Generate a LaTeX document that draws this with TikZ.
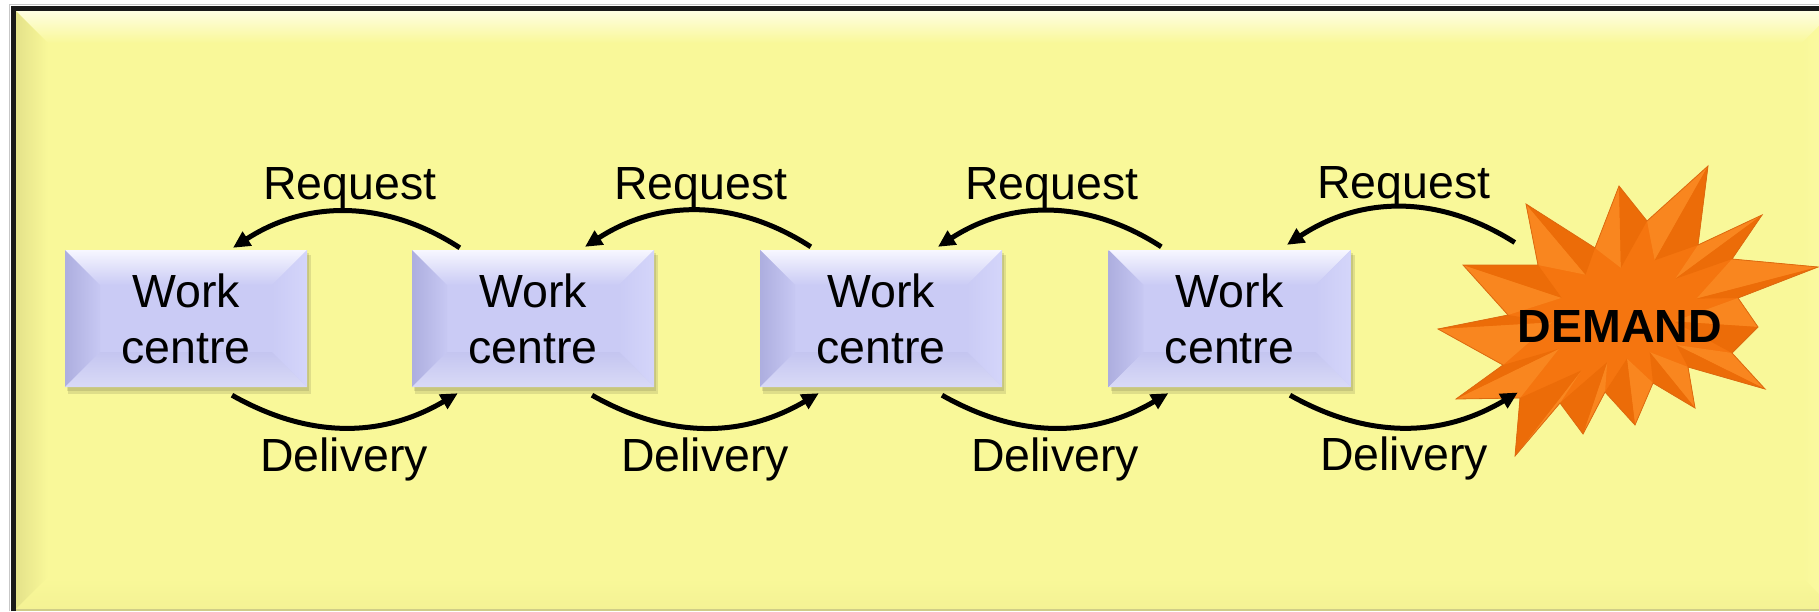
\documentclass[tikz,border=0pt]{standalone}
\usepackage{fontspec}
\setmainfont{Liberation Sans}
\usetikzlibrary{arrows.meta,calc}

\definecolor{panel}{HTML}{F9F899}
\definecolor{panelhi}{HTML}{FEFEE2}
\definecolor{panelsh}{HTML}{E4E28A}
\definecolor{panelbt}{HTML}{F4F294}
\definecolor{panelrt}{HTML}{FCFBA6}
\definecolor{panelline}{HTML}{CFCD88}
\definecolor{wcbase}{HTML}{CACBF5}
\definecolor{wctop}{HTML}{F7F7FF}
\definecolor{wcleft}{HTML}{ADAEDF}
\definecolor{wcright}{HTML}{D4D5FA}
\definecolor{wcbot}{HTML}{C4C5F0}
\definecolor{wcbotedge}{HTML}{D9DAF7}
\definecolor{starbase}{HTML}{F5750F}
\definecolor{starlight}{HTML}{F9861F}
\definecolor{stardark}{HTML}{EC6C08}
\definecolor{staredge}{HTML}{DD6A10}

% bevelled work-centre tile, centred at (#1,#2), 242 x 137 with a 35 bevel
\newcommand\wcbevel[2]{%
  \begin{scope}[shift={(#1,#2)}]
    \fill[black,opacity=.10] (-118,-64) rectangle (125,75);
    \fill[black,opacity=.10] (-119,-66) rectangle (123,72);
    \fill[wcbase] (-121,-68.5) rectangle (121,68.5);
    \shade[top color=wctop,bottom color=wcbase] (-121,-68.5) -- (121,-68.5) -- (86,-33.5) -- (-86,-33.5) -- cycle;
    \shade[left color=wcleft,right color=wcbase!90!wcleft] (-121,-68.5) -- (-86,-33.5) -- (-86,33.5) -- (-121,68.5) -- cycle;
    \shade[left color=wcbase,right color=wcright] (121,-68.5) -- (121,68.5) -- (86,33.5) -- (86,-33.5) -- cycle;
    \shade[top color=wcbot,bottom color=wcbotedge] (-121,68.5) -- (121,68.5) -- (86,33.5) -- (-86,33.5) -- cycle;
  \end{scope}}

\begin{document}
\begin{tikzpicture}[x=1pt,y=-1pt,
  wc/.style={minimum width=242pt,minimum height=137pt,inner sep=0pt,align=center,
             font=\fontsize{46.5}{56}\selectfont},
  lbl/.style={anchor=base,inner sep=0pt,font=\fontsize{46.5}{56}\selectfont},
  conn/.style={line width=5pt,-{Triangle[length=17pt,width=16pt]}}]
\useasboundingbox (0,0) rectangle (1819,611);
\clip (0,0) rectangle (1819,611);
\fill[white] (0,0) rectangle (1819,611);

% yellow bevelled panel
\fill[panel] (16,11) rectangle (1834,609);
\shade[top color=panelhi,bottom color=panel] (16,11) -- (1834,11) -- (1802,43) -- (48,43) -- cycle;
\shade[left color=panelsh,right color=panel] (16,11) -- (48,43) -- (48,577) -- (16,609) -- cycle;
\shade[top color=panel,bottom color=panelbt] (16,609) -- (48,577) -- (1802,577) -- (1834,609) -- cycle;
\shade[left color=panel,right color=panelrt] (1834,11) -- (1802,43) -- (1802,577) -- (1834,609) -- cycle;
\draw[panelline,line width=1.5pt] (16,609.75) -- (1819,609.75);
\draw[black!22,line width=1.5pt] (9.5,611) -- (9.5,4.5) -- (1819,4.5);
\draw[black!90,line width=5pt,line join=miter] (13,611) -- (13,8) -- (1819,8);

% work centres
\wcbevel{186}{318.5}
\wcbevel{533}{318.5}
\wcbevel{881}{318.5}
\wcbevel{1229.5}{318.5}
\node[wc] (b1) at (186,318.5) {Work\\centre};
\node[wc] (b2) at (533,318.5) {Work\\centre};
\node[wc] (b3) at (881,318.5) {Work\\centre};
\node[wc] (b4) at (1229.5,318.5) {Work\\centre};

% demand starburst: odd points are tips, even points are notches
\foreach \px/\py [count=\i] in {1526/204,1595/248,1619/186,1647/221,1708/166,1698/245,
  1762/215,1732/259,1818/267,1738/298,1758/327,1732/353,1765/389,1688/367,
  1695/408,1653/383,1635/425,1605/392,1583/434,1560/403,1515/456,1520/398,
  1456/399,1503/365,1438/329,1508/315,1463/265,1538/265}
  \coordinate (s\i) at (\px,\py);
\coordinate (s0) at (s28);
\coordinate (sc) at (1622,318);
\fill[black,opacity=.13,shift={(3,5)}] (s1) \foreach \i in {2,...,28}{ -- (s\i)} -- cycle;
\fill[starbase] (s1) \foreach \i in {2,...,28}{ -- (s\i)} -- cycle;
% each spike gets a lit and a shaded face either side of its ridge
\foreach \i in {1,3,...,27}{
  \pgfmathtruncatemacro\ip{\i-1}
  \pgfmathtruncatemacro\in{\i+1}
  \coordinate (rg) at ($(s\i)!0.62!(sc)$);
  \fill[starlight] (s\ip) -- (s\i) -- (rg) -- cycle;
  \fill[stardark] (s\i) -- (s\in) -- (rg) -- cycle;
}
\draw[staredge,line width=.8pt,line join=miter] (s1) \foreach \i in {2,...,28}{ -- (s\i)} -- cycle;
\node[inner sep=0pt,font=\bfseries\fontsize{46.5}{56}\selectfont] (dem) at (1620,326.5) {DEMAND};

% labels
\node[lbl] (r1) at (350,199) {Request};
\node[lbl] (r2) at (701,199) {Request};
\node[lbl] (r3) at (1052,199) {Request};
\node[lbl] (r4) at (1404,198) {Request};
\node[lbl] (d1) at (344,471) {Delivery};
\node[lbl] (d2) at (705,471) {Delivery};
\node[lbl] (d3) at (1055,471) {Delivery};
\node[lbl] (d4) at (1404,470) {Delivery};

% requests travel upstream, deliveries downstream
\draw[conn] ($(b2.north west)+(48,-2)$) to[bend right=33] ($(b1.north)+(47,-2)$);
\draw[conn] ($(b3.north west)+(51,-3)$) to[bend right=33] ($(b2.north)+(52,-3)$);
\draw[conn] ($(b4.north west)+(53,-3)$) to[bend right=33] ($(b3.north)+(57,-3)$);
\draw[conn] ($(dem.west)+(-3,-84)$) to[bend right=33] ($(b4.north)+(57.5,-5)$);
\draw[conn] ($(b1.south)+(46,8)$) to[bend right=30] ($(b2.south west)+(46,6)$);
\draw[conn] ($(b2.south)+(59,8)$) to[bend right=30] ($(b3.south west)+(59,6)$);
\draw[conn] ($(b3.south)+(61,8)$) to[bend right=30] ($(b4.south west)+(60,6)$);
\draw[conn] ($(b4.south)+(60.5,8)$) to[bend right=30] ($(dem.west)+(0,66)$);
\end{tikzpicture}
\end{document}
